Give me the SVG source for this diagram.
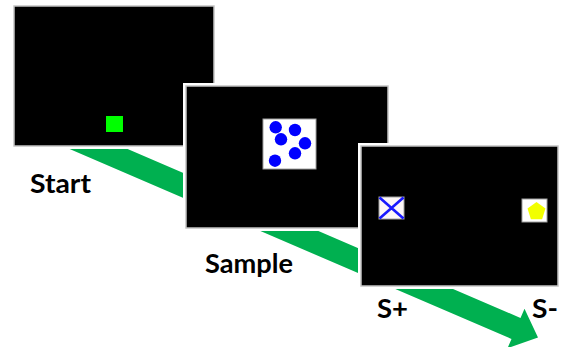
<svg xmlns="http://www.w3.org/2000/svg" width="561" height="347" viewBox="0 0 561 347">
<style>
.outline{fill:#ffffff}
.screen{fill:#000000;stroke:#c4c4c4;stroke-width:1.5}
.card{fill:#ffffff;stroke:#a0a0a0;stroke-width:1}
.dot{fill:#0000ff}
.lbl{font-family:Lato,"Open Sans",sans-serif;font-weight:700;font-size:26px;fill:#000000}
</style>
<rect width="561" height="347" fill="#ffffff"/>
<g id="connectors">
<polygon points="106.7,140 48.7,140 511.5,339 507.5,348.2 538,337.5 524.5,308.8 520.5,318" fill="#00b050"/>
</g>
<g id="start">
<rect class="outline" x="11" y="3" width="206" height="146"/>
<rect class="screen" x="14" y="6" width="200" height="140"/>
<rect x="106" y="116" width="17" height="16" fill="#00ff00"/>
<text class="lbl" x="30" y="193" textLength="61" lengthAdjust="spacingAndGlyphs">Start</text>
</g>
<g id="sample">
<rect class="outline" x="183" y="83" width="208" height="148"/>
<rect class="screen" x="186" y="86" width="202" height="142"/>
<rect class="card" x="263" y="119" width="53" height="50"/>
<circle class="dot" cx="275.7" cy="127.3" r="6.2"/>
<circle class="dot" cx="295" cy="130" r="6.2"/>
<circle class="dot" cx="281" cy="139.3" r="6.2"/>
<circle class="dot" cx="305" cy="143.3" r="6.2"/>
<circle class="dot" cx="295" cy="153.3" r="6.2"/>
<circle class="dot" cx="275" cy="160.7" r="6.2"/>
<text class="lbl" x="205" y="273" textLength="88" lengthAdjust="spacingAndGlyphs">Sample</text>
</g>
<g id="choice">
<rect class="outline" x="358" y="143" width="203" height="146"/>
<rect class="screen" x="361" y="146" width="197" height="140"/>
<rect x="379" y="197" width="25" height="22" fill="#fdf7f7" stroke="#a0a0a0" stroke-width="1"/>
<path d="M379.5,197.5 L403.5,218.5 M403.5,197.5 L379.5,218.5" stroke="#1a1aff" stroke-width="2.6" fill="none"/>
<rect class="card" x="522" y="199" width="25" height="23"/>
<polygon points="536.5,202 545.5,208.6 542.1,219.2 530.9,219.2 527.5,208.6" fill="#f2ff00"/>
<text class="lbl" x="377" y="318" textLength="31" lengthAdjust="spacingAndGlyphs">S+</text>
<text class="lbl" x="532" y="318" textLength="26" lengthAdjust="spacingAndGlyphs">S-</text>
</g>
</svg>
